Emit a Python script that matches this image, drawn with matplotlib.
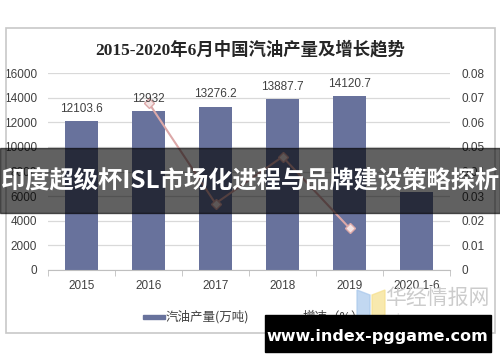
import numpy as np
import matplotlib
matplotlib.use('Agg')
import matplotlib.pyplot as plt
from matplotlib.patches import Rectangle, Polygon

plt.rcParams['font.family'] = ['Liberation Sans', 'Noto Sans CJK SC', 'DejaVu Sans']

# data
years = ['2015', '2016', '2017', '2018', '2019', '2020.1-6']
output = [12103.6, 12932, 13276.2, 13887.7, 14120.7, 6300]
output_labels = ['12103.6', '12932', '13276.2', '13887.7', '14120.7', '']
growth_years = ['2016', '2017', '2018', '2019']
growth = [0.068, 0.027, 0.046, 0.017]

title = '2015-2020年6月中国汽油产量及增长趋势'
overlay_text = '印度超级杯ISL市场化进程与品牌建设策略探析'
site_text = 'www.index-pggame.com'

BAR = '#68729c'
LINE = '#dca8a8'
GRAY = '#404040'

fig = plt.figure(figsize=(5, 3.62), dpi=100)
fig.patch.set_facecolor('white')

# outer chart frame
fig.patches.append(Rectangle((6/500, 1-333/362), 489/500, 305/362, transform=fig.transFigure,
                             fill=False, edgecolor='#c8c8c8', lw=1.2, zorder=0))

ax = fig.add_axes([48/500, 1-270/362, 402/500, 197/362])
x = np.arange(len(years))
ax.bar(x, output, width=0.5, color=BAR, zorder=2)
for xi, v, lab in zip(x, output, output_labels):
    ax.text(xi, v + 500, lab, ha='center', va='bottom', fontsize=8.5, color=GRAY, zorder=5)

ax.set_xlim(-0.5, len(years) - 0.5)
ax.set_ylim(0, 16000)
ax.set_yticks(np.arange(0, 16001, 2000))
ax.set_xticks(x)
ax.set_xticklabels(years)
ax.set_xticks(np.arange(-0.5, len(years), 1), minor=True)
ax.tick_params(axis='x', which='major', length=0, labelsize=8.5, labelcolor=GRAY, pad=7)
ax.tick_params(axis='x', which='minor', length=4, color='#bfbfbf')
ax.tick_params(axis='y', length=0, labelsize=8.5, labelcolor=GRAY, pad=8)
ax.grid(axis='y', color='#d9d9d9', lw=0.9, zorder=0)
for s in ['top', 'left', 'right']:
    ax.spines[s].set_visible(False)
ax.spines['bottom'].set_color('#bfbfbf')

ax2 = ax.twinx()
gx = [years.index(y) for y in growth_years]
ax2.plot(gx, growth, color=LINE, lw=1.5, marker='D', markersize=5,
         markerfacecolor='#f4e4e4', markeredgecolor=LINE, zorder=4)
ax2.set_ylim(0, 0.08)
ax2.set_yticks(np.arange(0, 0.081, 0.01))
ax2.set_yticklabels(['0'] + ['%.2f' % t for t in np.arange(0.01, 0.081, 0.01)])
ax2.tick_params(axis='y', length=0, labelsize=8.5, labelcolor=GRAY, pad=8)
for s in ['top', 'left', 'right', 'bottom']:
    ax2.spines[s].set_visible(False)
# the 2016 label sits over the line in the reference
ax2.text(1, 12932 / 16000 * 0.08 + 0.0025, '12932', ha='center', va='bottom', fontsize=8.5,
         color=GRAY, zorder=6)
ax.texts[1].set_visible(False)

fig.text(0.5, 1-50/362, title, ha='center', va='center', fontsize=12.5, fontweight='bold',
         color='#262626', family=['Liberation Serif', 'Noto Sans CJK SC'])

# legend drawn by hand
fig.patches.append(Rectangle((143/500, 1-319/362), 22/500, 4/362, transform=fig.transFigure,
                             color=BAR, zorder=3))
fig.text(166/500, 1-317/362, '汽油产量(万吨)', ha='left', va='center', fontsize=9, color=GRAY,
         family=['Noto Sans CJK SC'])
fig.lines.append(plt.Line2D([272/500, 300/500], [1-317/362]*2, transform=fig.transFigure,
                            color=LINE, lw=1.5))
fig.text(303/500, 1-317/362, '增速（%）', ha='left', va='center', fontsize=9, color=GRAY,
         family=['Noto Sans CJK SC'])

# watermark logo
fig.patches.append(Polygon([[357/500, 1-290/362], [370/500, 1-295/362], [370/500, 1-320/362],
                            [357/500, 1-315/362]], closed=True, transform=fig.transFigure,
                           color='#a9c8ec', alpha=0.7, zorder=3))
fig.patches.append(Polygon([[372/500, 1-295/362], [385/500, 1-290/362], [385/500, 1-315/362],
                            [372/500, 1-320/362]], closed=True, transform=fig.transFigure,
                           color='#f6e08c', alpha=0.7, zorder=3))
fig.text(437/500, 1-298/362, '华经情报网', ha='center', va='center', fontsize=15, color='#cccccc',
         family=['Noto Sans CJK SC'], zorder=3)
fig.text(437/500, 1-318/362, 'h u a o n . c o m', ha='center', va='center', fontsize=8,
         color='#e2e2e2', zorder=3)

# dark band across the middle
fig.patches.append(Rectangle((0, 1-213/362), 1, 65/362, transform=fig.transFigure,
                             color='black', alpha=0.62, zorder=10))
fig.text(0.5, 1-181/362, overlay_text, ha='center', va='center', fontsize=17.5, fontweight='bold',
         color='white', family=['Noto Sans CJK SC'], zorder=11)

# site box bottom right
fig.patches.append(Rectangle((265/500, 1-352/362), 226/500, 37/362, transform=fig.transFigure,
                             color='black', zorder=10))
fig.text(377/500, 1-337/362, site_text, ha='center', va='center', fontsize=11.5, fontweight='bold',
         color='white', family=['DejaVu Sans'], zorder=11)

fig.savefig('out.png', dpi=100)
